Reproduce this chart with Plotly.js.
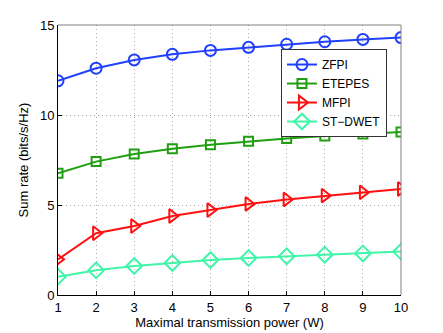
<!DOCTYPE html>
<html><head><meta charset="utf-8">
<script src="https://cdn.plot.ly/plotly-3.0.1.min.js"></script>
<style>html,body{margin:0;padding:0;background:#fff}#c{width:443px;height:333px}</style>
</head><body><div id="c"></div>
<script>
const power = [1,2,3,4,5,6,7,8,9,10];
const zfpi   = [11.9, 12.6, 13.06, 13.37, 13.59, 13.76, 13.93, 14.07, 14.2, 14.3];
const etepes = [6.76, 7.41, 7.83, 8.13, 8.35, 8.54, 8.69, 8.83, 8.94, 9.06];
const mfpi   = [1.98, 3.43, 3.83, 4.39, 4.72, 5.06, 5.31, 5.52, 5.70, 5.89];
const stdwet = [1.02, 1.37, 1.61, 1.78, 1.94, 2.06, 2.15, 2.24, 2.31, 2.41];
const names = ['ZFPI','ETEPES','MFPI','ST\u2212DWET'];
const colors = ['#2040ff','#20a010','#ff1010','#40f5a8'];
const symbols = ['circle-open','square-open','triangle-right-open','diamond-open'];
const sizes = [11, 9, 12, 12];
const series = [zfpi, etepes, mfpi, stdwet];
const traces = series.map((s,i)=>({
  x: power, y: s, name: names[i], type:'scatter', mode:'lines+markers',
  line:{color:colors[i], width:2},
  marker:{symbol:symbols[i], size:sizes[i], color:colors[i], line:{width:2, color:colors[i]}}
}));
const fam = 'Liberation Sans, Arial, sans-serif';
const layout = {
  width:443, height:333,
  margin:{l:58, r:42, t:25, b:38},
  paper_bgcolor:'#fff', plot_bgcolor:'#fff',
  font: {family:fam, size:13, color:'#000'},
  showlegend:true,
  legend:{x:0.65, y:0.911, xanchor:'left', yanchor:'top', bgcolor:'#fff',
    bordercolor:'#333', borderwidth:1, font:{family:fam, size:12, color:'#000'},
    tracegroupgap:0},
  xaxis:{range:[1,10], tickvals:power, ticks:'inside', ticklen:4, tickcolor:'#000',
    showline:true, linecolor:'#000', linewidth:1, mirror:false,
    showgrid:true, gridcolor:'#aaa', griddash:'1px,3px', gridwidth:1, zeroline:false,
    title:{text:'Maximal transmission power (W)', font:{size:13}, standoff:3},
    tickfont:{size:13}},
  yaxis:{range:[0,15], tickvals:[0,5,10,15], ticks:'inside', ticklen:4, tickcolor:'#000',
    showline:true, linecolor:'#000', linewidth:1, mirror:false,
    showgrid:true, gridcolor:'#aaa', griddash:'1px,3px', gridwidth:1, zeroline:false,
    title:{text:'Sum rate (bits/s/Hz)', font:{size:13}, standoff:8},
    tickfont:{size:13}},
  shapes:[
    {type:'line', xref:'paper', yref:'paper', x0:0, x1:1, y0:1, y1:1, line:{color:'#808080', width:1}},
    {type:'line', xref:'paper', yref:'paper', x0:1, x1:1, y0:0, y1:1, line:{color:'#808080', width:1}}
  ]
};
Plotly.newPlot('c', traces, layout, {displayModeBar:false, staticPlot:true});
</script></body></html>
